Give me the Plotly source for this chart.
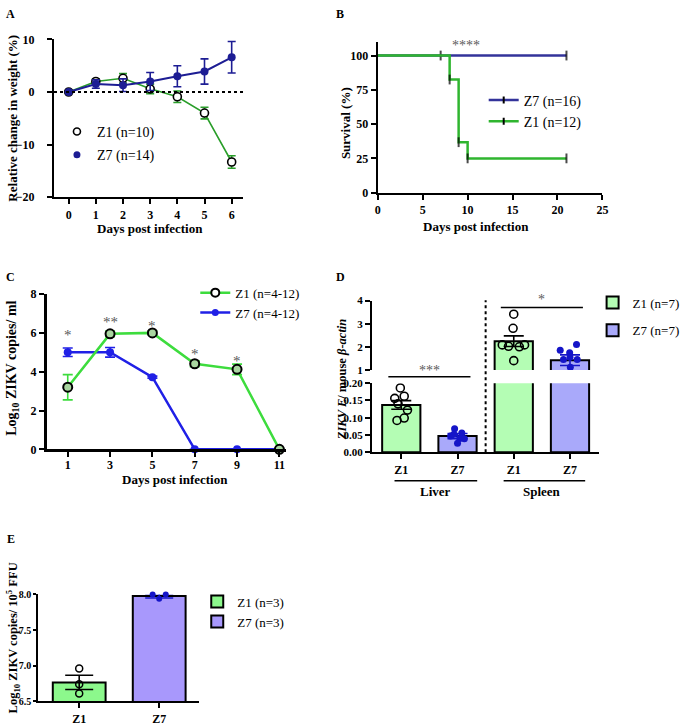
import plotly.graph_objects as go

W, H = 685, 728
def fx(p): return p / W
def fy(p): return 1 - p / H

SERIF = "Liberation Serif, Times New Roman, serif"

# ---------------- data ----------------
# Panel A: relative weight change
a_days = [0, 1, 2, 3, 4, 5, 6]
a_z1 = [0, 2.0, 2.6, 0.6, -0.9, -4.0, -13.3]
a_z1_sem = [0, 0.5, 0.9, 0.9, 1.1, 1.1, 1.2]
a_z7 = [0, 1.5, 1.3, 2.0, 3.0, 3.9, 6.6]
a_z7_sem = [0, 0.8, 1.2, 1.7, 2.0, 2.4, 3.0]
a_yticks = [-20, -10, 0, 10]

# Panel B: survival
b_z7_days = [0, 7, 21]
b_z7_surv = [100, 100, 100]
b_z1_days = [0, 8, 9, 10, 21]
b_z1_surv = [100, 82.5, 36.8, 25, 25]
b_xticks = [0, 5, 10, 15, 20, 25]
b_yticks = [0, 25, 50, 75, 100]

# Panel C: viremia
c_days = [1, 3, 5, 7, 9, 11]
c_z1 = [3.2, 5.95, 6.0, 4.41, 4.12, 0]
c_z1_sem = [0.65, 0.15, 0.1, 0.15, 0.27, 0]
c_z7 = [5.0, 5.0, 3.72, 0, 0, 0]
c_z7_sem = [0.22, 0.25, 0.05, 0, 0, 0]
c_stars = ["*", "**", "*", "*", "*"]
c_star_y = [5.9, 6.55, 6.35, 4.9, 4.55]
c_yticks = [0, 2, 4, 6, 8]

# Panel D: tissue RNA
d_cats = ["Z1", "Z7", "Z1", "Z7"]
d_tissues = ["Liver", "Spleen"]
d_z1_means = [0.137, 2.24]       # liver, spleen
d_z1_sem = [0.0125, 0.23]
d_z7_means = [0.047, 1.42]
d_z7_sem = [0.0075, 0.23]
liver_z1_pts = [0.186, 0.156, 0.162, 0.140, 0.122, 0.092, 0.099]
liver_z1_off = [-0.017, -0.116, 0.052, -0.058, 0.110, -0.076, 0.052]
liver_z7_pts = [0.068, 0.047, 0.056, 0.040, 0.026, 0.039, 0.052]
liver_z7_off = [-0.052, -0.122, 0.076, 0.041, 0.0, 0.122, -0.064]
spleen_z1_pts = [3.41, 2.80, 2.08, 2.02, 2.00, 2.08, 1.40]
spleen_z1_off = [0.0, -0.012, -0.204, -0.093, 0.099, 0.192, 0.0]
spleen_z7_pts = [1.85, 1.74, 2.10, 1.45, 1.45, 1.11, 1.55]
spleen_z7_off = [-0.174, -0.006, 0.116, -0.116, 0.128, 0.006, 0.0]
d_low_ticks = [0, 0.05, 0.10, 0.15, 0.20]
d_up_ticks = [1, 2, 3, 4]

# Panel E: copies per FFU
e_cats = ["Z1", "Z7"]
e_means = [6.766, 7.98]
e_sem = [0.10, 0.03]
e_z1_pts = [6.96, 6.74, 6.61]
e_z1_off = [0.0, 0.0, 0.0]
e_z7_pts = [8.0, 8.0, 7.94]
e_z7_off = [-0.082, 0.082, 0.0]
e_yticks = [6.5, 7.0, 7.5, 8.0]

# ---------------- colours ----------------
A_GREEN, A_NAVY = "#2a9e2a", "#1d1d94"
B_BLUE, B_GREEN = "#33339a", "#2fb52f"
C_GREEN, C_BLUE = "#3ddc3d", "#2020e6"
D_Z1, D_Z7 = "#b4fdb4", "#a9a9fa"
E_Z1, E_Z7 = "#8cf88c", "#a898fc"
PT_BLUE = "#1515c8"
STAR = "#5a5a5a"

fig = go.Figure()

# ---------------- Panel A ----------------
fig.add_trace(go.Scatter(
    x=a_days, y=a_z1, mode="lines+markers", xaxis="x", yaxis="y",
    line=dict(color=A_GREEN, width=1.6),
    marker=dict(size=8, color="white", line=dict(color="black", width=1.6)),
    error_y=dict(type="data", array=a_z1_sem, color=A_GREEN, thickness=1.6, width=4),
    showlegend=False, cliponaxis=False))
fig.add_trace(go.Scatter(
    x=a_days, y=a_z7, mode="lines+markers", xaxis="x", yaxis="y",
    line=dict(color=A_NAVY, width=2),
    marker=dict(size=8, color=A_NAVY),
    error_y=dict(type="data", array=a_z7_sem, color=A_NAVY, thickness=1.6, width=4),
    showlegend=False, cliponaxis=False))
fig.add_trace(go.Scatter(x=[None], y=[None], mode="markers", name="Z1 (n=10)",
                         marker=dict(size=7, color="white", line=dict(color="black", width=1.6)),
                         legend="legend", legendgroup="a1", xaxis="x", yaxis="y"))
fig.add_trace(go.Scatter(x=[None], y=[None], mode="markers", name="Z7 (n=14)",
                         marker=dict(size=7, color=A_NAVY),
                         legend="legend", legendgroup="a2", xaxis="x", yaxis="y"))

# ---------------- Panel B ----------------
def censor_sizes(n):
    return [0] + [7] * (n - 1)

fig.add_trace(go.Scatter(
    x=b_z7_days, y=b_z7_surv, mode="lines+markers", line_shape="hv",
    xaxis="x2", yaxis="y2", line=dict(color=B_BLUE, width=2.5),
    marker=dict(symbol="line-ns", size=censor_sizes(len(b_z7_days)),
                line=dict(color="black", width=2)),
    showlegend=False, cliponaxis=False))
fig.add_trace(go.Scatter(
    x=b_z1_days, y=b_z1_surv, mode="lines+markers", line_shape="hv",
    xaxis="x2", yaxis="y2", line=dict(color=B_GREEN, width=2.5),
    marker=dict(symbol="line-ns", size=censor_sizes(len(b_z1_days)),
                line=dict(color="black", width=2)),
    showlegend=False, cliponaxis=False))
fig.add_trace(go.Scatter(x=[None], y=[None], mode="lines+markers", name="Z7 (n=16)",
                         line=dict(color=B_BLUE, width=2.5),
                         marker=dict(symbol="line-ns", size=5, line=dict(color="black", width=2)),
                         legend="legend2", legendgroup="b1", xaxis="x2", yaxis="y2"))
fig.add_trace(go.Scatter(x=[None], y=[None], mode="lines+markers", name="Z1 (n=12)",
                         line=dict(color=B_GREEN, width=2.5),
                         marker=dict(symbol="line-ns", size=5, line=dict(color="black", width=2)),
                         legend="legend2", legendgroup="b2", xaxis="x2", yaxis="y2"))

# ---------------- Panel C ----------------
fig.add_trace(go.Scatter(
    x=c_days, y=c_z7, mode="lines+markers", xaxis="x3", yaxis="y3",
    line=dict(color=C_BLUE, width=2.5), marker=dict(size=8, color=C_BLUE),
    error_y=dict(type="data", array=c_z7_sem, color=C_BLUE, thickness=1.6, width=5),
    showlegend=False, cliponaxis=False))
fig.add_trace(go.Scatter(
    x=c_days, y=c_z1, mode="lines+markers", xaxis="x3", yaxis="y3",
    line=dict(color=C_GREEN, width=2.5),
    marker=dict(size=9, color="#a9d6a0", line=dict(color="black", width=2)),
    error_y=dict(type="data", array=c_z1_sem, color=C_GREEN, thickness=1.6, width=5),
    showlegend=False, cliponaxis=False))
fig.add_trace(go.Scatter(x=[None], y=[None], mode="lines+markers", name="Z1 (n=4-12)",
                         line=dict(color=C_GREEN, width=2.5),
                         marker=dict(size=8, color="white", line=dict(color="black", width=2)),
                         legend="legend3", legendgroup="c1", xaxis="x3", yaxis="y3"))
fig.add_trace(go.Scatter(x=[None], y=[None], mode="lines+markers", name="Z7 (n=4-12)",
                         line=dict(color=C_BLUE, width=2.5), marker=dict(size=7, color=C_BLUE),
                         legend="legend3", legendgroup="c2", xaxis="x3", yaxis="y3"))

# ---------------- Panel D (broken axis) ----------------
z1_x = [0, 2]
z7_x = [1, 3]
for xa, ya, show in (("x4", "y4", True), ("x5", "y5", False)):
    fig.add_trace(go.Bar(x=z1_x, y=d_z1_means, width=0.68, xaxis=xa, yaxis=ya,
                         marker=dict(color=D_Z1, line=dict(color="black", width=2)),
                         name="Z1 (n=7)", legend="legend4", legendgroup="d1",
                         showlegend=show))
    fig.add_trace(go.Bar(x=z7_x, y=d_z7_means, width=0.68, xaxis=xa, yaxis=ya,
                         marker=dict(color=D_Z7, line=dict(color="black", width=2)),
                         name="Z7 (n=7)", legend="legend4", legendgroup="d2",
                         showlegend=show))

def err_trace(x, y, e, color, xa, ya, width, clip=True):
    return go.Scatter(x=[x], y=[y], mode="markers", xaxis=xa, yaxis=ya,
                      marker=dict(size=1, color="rgba(0,0,0,0)"),
                      error_y=dict(type="data", array=[e], color=color, thickness=1.6, width=width),
                      showlegend=False, cliponaxis=clip, hoverinfo="skip")

# liver (lower axis) error bars + points
fig.add_trace(err_trace(z1_x[0], d_z1_means[0], d_z1_sem[0], "black", "x4", "y4", 10))
fig.add_trace(err_trace(z7_x[0], d_z7_means[0], d_z7_sem[0], PT_BLUE, "x4", "y4", 10))
fig.add_trace(go.Scatter(x=[z1_x[0] + o for o in liver_z1_off], y=liver_z1_pts, mode="markers",
                         xaxis="x4", yaxis="y4",
                         marker=dict(symbol="circle-open", size=8, color="black", line=dict(width=1.6)),
                         showlegend=False))
fig.add_trace(go.Scatter(x=[z7_x[0] + o for o in liver_z7_off], y=liver_z7_pts, mode="markers",
                         xaxis="x4", yaxis="y4", marker=dict(size=7, color=PT_BLUE),
                         showlegend=False))
# spleen (upper axis)
fig.add_trace(err_trace(z1_x[1], d_z1_means[1], d_z1_sem[1], "black", "x5", "y5", 10))
fig.add_trace(err_trace(z7_x[1], d_z7_means[1], d_z7_sem[1], PT_BLUE, "x5", "y5", 10))
fig.add_trace(go.Scatter(x=[z1_x[1] + o for o in spleen_z1_off], y=spleen_z1_pts, mode="markers",
                         xaxis="x5", yaxis="y5",
                         marker=dict(symbol="circle-open", size=8, color="black", line=dict(width=1.6)),
                         showlegend=False))
fig.add_trace(go.Scatter(x=[z7_x[1] + o for o in spleen_z7_off], y=spleen_z7_pts, mode="markers",
                         xaxis="x5", yaxis="y5", marker=dict(size=7, color=PT_BLUE),
                         showlegend=False))

# ---------------- Panel E ----------------
fig.add_trace(go.Bar(x=[0], y=[e_means[0]], width=0.66, xaxis="x6", yaxis="y6",
                     marker=dict(color=E_Z1, line=dict(color="black", width=2)),
                     name="Z1 (n=3)", legend="legend5", legendgroup="e1"))
fig.add_trace(go.Bar(x=[1], y=[e_means[1]], width=0.66, xaxis="x6", yaxis="y6",
                     marker=dict(color=E_Z7, line=dict(color="black", width=2)),
                     name="Z7 (n=3)", legend="legend5", legendgroup="e2"))
fig.add_trace(err_trace(0, e_means[0], e_sem[0], "black", "x6", "y6", 14, False))
fig.add_trace(err_trace(1, e_means[1], e_sem[1], PT_BLUE, "x6", "y6", 14, False))
fig.add_trace(go.Scatter(x=[0 + o for o in e_z1_off], y=e_z1_pts, mode="markers", xaxis="x6", yaxis="y6",
                         marker=dict(symbol="circle-open", size=7, color="black", line=dict(width=1.5)),
                         showlegend=False, cliponaxis=False))
fig.add_trace(go.Scatter(x=[1 + o for o in e_z7_off], y=e_z7_pts, mode="markers", xaxis="x6", yaxis="y6",
                         marker=dict(size=6, color=PT_BLUE), showlegend=False, cliponaxis=False))

# ---------------- axes ----------------
def axis(size=12, **kw):
    base = dict(showline=True, linecolor="black", linewidth=2, ticks="outside", ticklen=5,
                tickwidth=2, tickcolor="black", showgrid=False, zeroline=False,
                tickfont=dict(family=SERIF, size=size, color="black", weight=700))
    base.update(kw)
    return base

layout_axes = dict(
    xaxis=axis(domain=[fx(52), fx(245)], range=[-0.54, 6.43], tickvals=a_days, anchor="y"),
    yaxis=axis(domain=[fy(194), fy(33)], range=[-20, 10], tickvals=a_yticks, anchor="x",
               ticklabelstandoff=10),
    xaxis2=axis(domain=[fx(382), fx(611)], range=[0, 25], tickvals=b_xticks, anchor="y2"),
    yaxis2=axis(domain=[fy(189.3), fy(35.5)], range=[0, 110], tickvals=b_yticks, anchor="x2"),
    xaxis3=axis(domain=[fx(44.4), fx(288.2)], range=[0, 11.3], tickvals=c_days, anchor="y3",
                linewidth=2.5, ticklabelstandoff=-2),
    yaxis3=axis(domain=[fy(451), fy(292.7)], range=[0, 8], tickvals=c_yticks, anchor="x3",
                linewidth=2.5),
    xaxis4=axis(domain=[fx(376), fx(608)], range=[-0.523, 3.524], tickvals=[0, 1, 2, 3],
                ticktext=d_cats, anchor="y4"),
    yaxis4=axis(size=11, domain=[fy(454), fy(383.5)], range=[0, 0.2], tickvals=d_low_ticks,
                tickformat=".2f", anchor="x4"),
    xaxis5=dict(domain=[fx(376), fx(608)], range=[-0.523, 3.524], visible=False, anchor="y5"),
    yaxis5=axis(size=11, domain=[fy(370), fy(299.3)], range=[1, 4], tickvals=d_up_ticks, anchor="x5"),
    xaxis6=axis(domain=[fx(36), fx(200)], range=[-0.511, 1.5], tickvals=[0, 1], ticktext=e_cats,
                anchor="y6"),
    yaxis6=axis(size=10, domain=[fy(708), fy(599)], range=[6.5, 8.0], tickvals=e_yticks,
                tickformat=".1f", anchor="x6", ticklen=3),
)

# ---------------- annotations ----------------
def txt(text, x, y, size=13, angle=0, color="black", xref="paper", yref="paper", **kw):
    d = dict(text=text, x=x, y=y, xref=xref, yref=yref, showarrow=False, textangle=angle,
             font=dict(family=SERIF, size=size, color=color), xanchor="center", yanchor="middle")
    d.update(kw)
    return d

ann = [
    txt("<b>A</b>", fx(8), fy(7), 12),
    txt("<b>B</b>", fx(344), fy(7), 12),
    txt("<b>C</b>", fx(8), fy(275), 12),
    txt("<b>D</b>", fx(344), fy(275), 12),
    txt("<b>E</b>", fx(8), fy(542), 12),
    txt("<b>Relative change in weight (%)</b>", fx(10), fy(113), 13, -90),
    txt("<b>Days post infection</b>", fx(150), fy(226), 13),
    txt("<b>Survival (%)</b>", fx(349), fy(118), 13, -90),
    txt("<b>Days post infection</b>", fx(482), fy(224), 13),
    txt("<b>Log<sub>10</sub> ZIKV copies/ ml</b>", fx(10), fy(368), 14, -90),
    txt("<b>Days post infection</b>", fx(175), fy(482), 13),
    txt("<b><i>ZIKV E</i>/ mouse <i>β-actin</i></b>", fx(345), fy(380), 12.5, -90),
    txt("<b>Log<sub>10</sub> ZIKV copies/ 10<sup>5</sup> FFU</b>", fx(10), fy(643), 12.5, -90),
    txt("****", 9.8, 107.5, 14, color=STAR, xref="x2", yref="y2"),
]
for d, s, yv in zip(c_days, c_stars, c_star_y):
    ann.append(txt(s, d, yv, 15, color=STAR, xref="x3", yref="y3"))
# panel D significance and groups
ann.append(txt("***", 0.5, fy(371), 14, color=STAR, xref="x4"))
ann.append(txt("*", 2.5, 3.72, 14, color=STAR, xref="x5", yref="y5", yanchor="bottom", yshift=-2))
ann.append(txt("<b>Liver</b>", 0.61, fy(494), 13, xref="x4"))
ann.append(txt("<b>Spleen</b>", 2.5, fy(494), 13, xref="x4"))

shapes = [
    dict(type="line", xref="x domain", yref="y", x0=0, x1=1, y0=0, y1=0,
         line=dict(color="black", width=2, dash="dot")),
    dict(type="line", xref="x4", yref="paper", x0=1.5, x1=1.5, y0=fy(454), y1=fy(299),
         line=dict(color="black", width=2, dash="dot")),
    dict(type="line", xref="x4", yref="paper", x0=-0.23, x1=1.23, y0=fy(377), y1=fy(377),
         line=dict(color="black", width=1.5)),
    dict(type="line", xref="x5", yref="y5", x0=1.77, x1=3.23, y0=3.7, y1=3.7,
         line=dict(color="black", width=1.5)),
    dict(type="line", xref="x4", yref="paper", x0=-0.12, x1=1.35, y0=fy(483), y1=fy(483),
         line=dict(color="black", width=1.5)),
    dict(type="line", xref="x4", yref="paper", x0=1.82, x1=3.27, y0=fy(483), y1=fy(483),
         line=dict(color="black", width=1.5)),
]

def legend(x, y, size=14, gap=4):
    return dict(x=fx(x), y=fy(y), xanchor="left", yanchor="top", bgcolor="rgba(0,0,0,0)",
                font=dict(family=SERIF, size=size, color="black", weight=400), tracegroupgap=gap)

fig.update_layout(
    width=W, height=H, margin=dict(l=0, r=0, t=0, b=0),
    font=dict(family=SERIF, color="black"),
    plot_bgcolor="white", paper_bgcolor="white", barmode="overlay",
    annotations=ann, shapes=shapes,
    legend=legend(55, 111, 14, 2),
    legend2=legend(490, 79, 14, 0),
    legend3=legend(196, 276, 13, 0),
    legend4=legend(601, 286, 13, 8),
    legend5=legend(198, 591, 13, 0),
    **layout_axes,
)

fig.write_html("out.html", config={"displayModeBar": False},
               post_script="document.body.style.margin='0';document.body.style.padding='0';")
